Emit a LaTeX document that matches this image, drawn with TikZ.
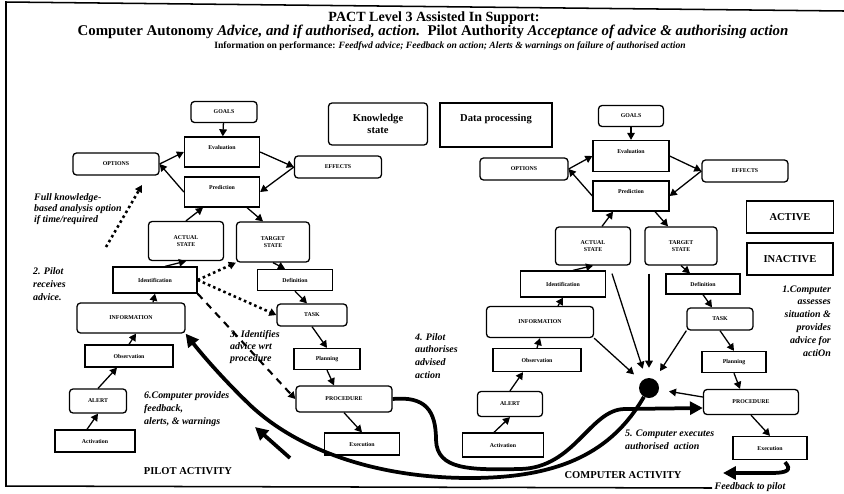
\documentclass[tikz,border=0pt]{standalone}
\usepackage{fontspec}
\setmainfont{Liberation Serif}
\usetikzlibrary{arrows.meta,calc}

\begin{document}
\begin{tikzpicture}[
    x=0.03cm, y=-0.03cm,
    >={Triangle[length=6pt,width=6.5pt]},
    arr/.style={->, line width=1.1pt},
    darr/.style={->, line width=1.8pt, dash pattern=on 6pt off 5pt},
    dotarr/.style={->, line width=2.2pt, dash pattern=on 2.2pt off 2.6pt},
    fat/.style={line width=3.2pt, -{Triangle[length=11pt,width=11pt]}},
    wh/.style 2 args={minimum width=#1*0.03cm, minimum height=#2*0.03cm},
    box/.style={draw, line width=1.1pt, fill=white, align=center, inner sep=1pt,
                font=\fontsize{5}{6.2}\selectfont\bfseries},
    rbox/.style={box, rounded corners=3pt},
    big/.style={font=\fontsize{9}{10.5}\selectfont\bfseries},
    lbl/.style={font=\fontsize{8.5}{11}\selectfont\bfseries\itshape, align=left, anchor=west}
]
\useasboundingbox (0,0) rectangle (844,493);

% frame of the figure
\draw[line width=1.3pt] (844,11) -- (6,2) -- (6,486) -- (712,488);

% heading
\node[font=\fontsize{12}{14}\selectfont\bfseries] (title) at (434,18) {PACT Level 3 Assisted In Support:};
\node[font=\fontsize{12.7}{14}\selectfont\bfseries] (sub) at (433,32)
{Computer Autonomy \textit{Advice, and if authorised, action.}\ \ Pilot Authority \textit{Acceptance of advice \& authorising action}};
\node[font=\fontsize{8.2}{9}\selectfont\bfseries] (info) at (450,46)
{Information on performance: \textit{Feedfwd advice; Feedback on action; Alerts \& warnings on failure of authorised action}};

% ---------------- pilot side ----------------
\node[rbox, wh={66}{21}] (goalsL) at (224,112) {GOALS};
\node[box, wh={75}{30}, text depth=7pt] (evalL) at (222,152) {Evaluation};
\node[rbox, wh={86}{22}] (optL) at (116,164) {OPTIONS};
\node[box, wh={75}{30}, text depth=7pt] (predL) at (222,192) {Prediction};
\node[rbox, wh={87}{22}] (effL) at (338,167) {EFFECTS};
\node[rbox, wh={75}{39}] (actL) at (186,241) {ACTUAL\\STATE};
\node[rbox, wh={73}{40}] (tgtL) at (273,242) {TARGET\\STATE};
\node[box, wh={84}{26}] (identL) at (155,280) {Identification};
\node[box, wh={75}{21}] (defL) at (295,280) {Definition};
\node[rbox, wh={108}{30}] (infoL) at (131,318) {INFORMATION};
\node[rbox, wh={70}{22}] (taskL) at (312,315) {TASK};
\node[box, wh={88}{22}] (obsL) at (129,356) {Observation};
\node[box, wh={66}{21}] (planL) at (327,359) {Planning};
\node[rbox, wh={57}{24}] (alertL) at (98,401) {ALERT};
\node[rbox, wh={96}{26}] (procL) at (344,399) {PROCEDURE};
\node[box, wh={80}{22}] (actvL) at (95,441) {Activation};
\node[box, wh={75}{22}] (execL) at (362,444) {Execution};

\draw[arr] (goalsL) -- (evalL);
\draw[arr] (evalL.east) -- (effL.west);
\draw[arr] (effL.west) -- (predL.east);
\draw[arr] (optL.east) -- (evalL.west);
\draw[arr] (predL.west) -- (optL.east);
\draw[arr] (actL.north) -- ($(predL.south)+(-19,0)$);
\draw[arr] ($(predL.south)+(25,0)$) -- ($(tgtL.north)+(-10,0)$);
\draw[arr] ($(identL.north)+(10,0)$) -- (actL.south);
\draw[arr] (tgtL.south) -- ($(defL.north)+(-10,0)$);
\draw[arr] (defL.south) -- ($(taskL.north)+(-5,0)$);
\draw[arr] (taskL.south) -- (planL.north);
\draw[arr] (planL.south) -- ($(procL.north)+(-10,0)$);
\draw[arr] (procL.south) -- (execL.north);
\draw[arr] ($(infoL.north)+(22,0)$) -- (identL.south);
\draw[arr] (obsL.north) -- ($(infoL.south)+(5,0)$);
\draw[arr] (alertL.north) -- ($(obsL.south)+(-12,0)$);
\draw[arr] ($(actvL.north)+(-8,0)$) -- (alertL.south);

% advice paths
\draw[dotarr] (identL.east) -- (tgtL.south west);
\draw[dotarr] (identL.east) -- (taskL.west);
\draw[darr] (identL.south east) -- (procL.west);
\coordinate (kbFrom) at (106,247);
\coordinate (kbTo) at (142,185);
\draw[dotarr] (kbFrom) -- (kbTo);

% ---------------- state boxes ----------------
\node[rbox, wh={99}{42}, big] (know) at (378,124) {Knowledge\\state};
\node[box, wh={112}{44}, text depth=0.4cm, big] (dproc) at (496,125) {Data processing};
\node[box, wh={87}{32}, big] (active) at (790,217) {ACTIVE};
\node[box, wh={86}{32}, big] (inactive) at (790,259) {INACTIVE};

% ---------------- computer side ----------------
\node[rbox, wh={88}{22}] (optR) at (524,169) {OPTIONS};
\node[rbox, wh={65}{21}] (goalsR) at (631,116) {GOALS};
\node[box, wh={76}{31}, text depth=7pt] (evalR) at (631,156) {Evaluation};
\node[box, wh={76}{30}, text depth=7pt] (predR) at (631,196) {Prediction};
\node[rbox, wh={86}{22}] (effR) at (745,171) {EFFECTS};
\node[rbox, wh={75}{38}] (actR) at (593,246) {ACTUAL\\STATE};
\node[rbox, wh={72}{38}] (tgtR) at (681,246) {TARGET\\STATE};
\node[box, wh={85}{26}] (identR) at (563,284) {Identification};
\node[box, wh={74}{20}] (defR) at (703,284) {Definition};
\node[rbox, wh={107}{31}] (infoR) at (540,322) {INFORMATION};
\node[rbox, wh={66}{22}] (taskR) at (720,319) {TASK};
\node[box, wh={88}{23}] (obsR) at (537,360) {Observation};
\node[box, wh={64}{21}] (planR) at (734,362) {Planning};
\node[rbox, wh={65}{25}] (alertR) at (510,404) {ALERT};
\node[rbox, wh={95}{25}] (procR) at (751,402) {PROCEDURE};
\node[box, wh={81}{24}] (actvR) at (503,445) {Activation};
\node[box, wh={74}{23}] (execR) at (770,448) {Execution};
\node[circle, fill=black, minimum size=0.6cm, inner sep=0pt] (dot) at (649,388) {};

\draw[arr] (goalsR) -- (evalR);
\draw[arr] (optR.east) -- (evalR.west);
\draw[arr] (predR.west) -- (optR.east);
\draw[arr] (evalR.east) -- (effR.west);
\draw[arr] (effR.west) -- (predR.east);
\draw[arr] ($(actR.north)+(9,0)$) -- ($(predR.south)+(-18,0)$);
\draw[arr] ($(predR.south)+(24,0)$) -- ($(tgtR.north)+(-13,0)$);
\draw[arr] ($(identR.north)+(10,0)$) -- (actR.south);
\draw[arr] (tgtR.south) -- ($(defR.north)+(-13,0)$);
\draw[arr] (defR.south) -- ($(taskR.north)+(-8,0)$);
\draw[arr] (taskR.south) -- (planR.north);
\draw[arr] (planR.south) -- ($(procR.north)+(-11,0)$);
\draw[arr] (procR.south) -- (execR.north);
\draw[arr] ($(infoR.north)+(18,0)$) -- (identR.south);
\draw[arr] (obsR.north) -- (infoR.south);
\draw[arr] (alertR.north) -- ($(obsR.south)+(-14,0)$);
\draw[arr] ($(actvR.north)+(-9,0)$) -- (alertR.south);

% everything feeds the computer
\draw[arr, shorten >=0.3cm] (infoR.south east) -- (dot);
\draw[arr, shorten >=0.3cm] ($(actR.south)+(19,8)$) -- (dot);
\draw[arr, shorten >=0.3cm] ($(tgtR.south -| dot)+(0,8)$) -- (dot);
\draw[arr, shorten >=0.3cm] (taskR.south west) -- (dot);
\draw[arr, shorten >=0.3cm] ($(procR.west)+(0,-5)$) -- (dot);

% authorisation and feedback
\draw[fat] (procL.east) .. controls (425,396) and (436,410) .. (436,440)
    .. controls (437,470) and (470,470) .. (520,469)
    .. controls (575,468) and (590,409) .. (625,409) -- ($(procR.west)+(0,6)$);
\draw[fat] (dot) .. controls (612,452) and (560,478) .. (470,478)
    .. controls (380,478) and (300,452) .. (250,405)
    .. controls (220,376) and (200,352) .. (infoL.south east);
\coordinate (fbFrom) at (290,458);
\coordinate (fbTo) at (255,427);
\draw[fat] (fbFrom) -- (fbTo);
\coordinate (toPilot) at (723,473);
\draw[fat] ($(execR.south)+(15,2)$) .. controls (792,470) and (788,473) .. (770,473) -- (toPilot);

% notes
\node[lbl, font=\fontsize{8.5}{9.3}\selectfont\bfseries\itshape] (kbNote) at (30,209) {Full knowledge-\\based analysis option\\if time/required};
\node[lbl] (n2) at (29,284) {2. Pilot\\receives\\advice.};
\node[lbl, font=\fontsize{8.5}{10.2}\selectfont\bfseries\itshape] (n3) at (226,347) {3. Identifies\\advice wrt\\procedure};
\node[lbl] (n4) at (411,356) {4. Pilot\\authorises\\advised\\action};
\node[lbl] (n6) at (140,409) {6.Computer provides\\feedback,\\alerts, \& warnings};
\node[lbl, font=\fontsize{8.5}{11.5}\selectfont\bfseries\itshape] (n5) at (621,440) {5. Computer executes\\authorised\ \ action};
\node[lbl, align=right, anchor=east] (n1) at (835,321) {1.Computer\\assesses\\situation \&\\provides\\advice for\\actiOn};
\node[font=\fontsize{8.5}{10}\selectfont\bfseries\itshape, inner sep=1pt] (fbNote) at (750,487) {Feedback to pilot};
\node[font=\fontsize{9}{10}\selectfont\bfseries] (pilot) at (188,471) {PILOT ACTIVITY};
\node[font=\fontsize{9}{10}\selectfont\bfseries] (comp) at (623,475) {COMPUTER ACTIVITY};

\end{tikzpicture}
\end{document}
